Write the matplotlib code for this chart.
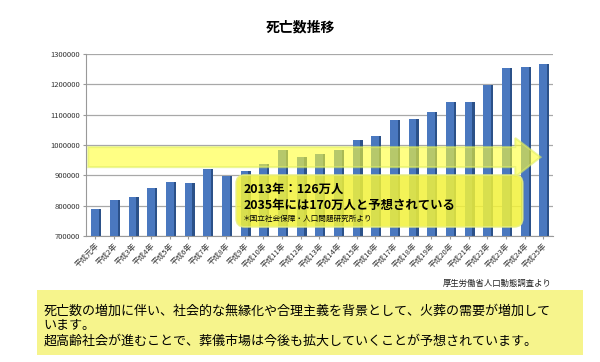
import matplotlib.pyplot as plt
from matplotlib.patches import FancyBboxPatch, Polygon, Rectangle
import numpy as np

plt.rcParams['font.family'] = ['Noto Sans CJK JP', 'DejaVu Sans']

years = ['平成元年'] + ['平成{}年'.format(i) for i in range(2, 26)]
deaths = [788594, 820305, 829797, 856643, 878532, 875933, 922139, 896211,
          913402, 936484, 982031, 961653, 970331, 982379, 1014951, 1028602,
          1083796, 1084450, 1108334, 1142407, 1141865, 1197012, 1253066,
          1256359, 1268436]
yticks = [700000, 800000, 900000, 1000000, 1100000, 1200000, 1300000]

title = '死亡数推移'
note_lines = ['2013年：126万人', '2035年には170万人と予想されている']
note_src = '＊国立社会保障・人口問題研究所より'
source = '厚生労働省人口動態調査より'
comment = ('死亡数の増加に伴い、社会的な無縁化や合理主義を背景として、火葬の需要が増加して\n'
           'います。\n'
           '超高齢社会が進むことで、葬儀市場は今後も拡大していくことが予想されています。')


def main():
    fig = plt.figure(figsize=(6, 3.62), dpi=100)
    ax = fig.add_axes([0.143, 0.348, 0.778, 0.503])

    x = np.arange(len(deaths))
    w = 0.42
    # front face + darker side face to fake the 3D look
    ax.bar(x + w / 2 + 0.06, np.array(deaths) - 700000, width=0.12,
           bottom=700000, color='#2b5189', zorder=2)
    ax.bar(x, np.array(deaths) - 700000, width=w, bottom=700000,
           color='#4a78bf', zorder=3)

    ax.set_xlim(-0.5, len(deaths) - 0.5)
    ax.set_ylim(700000, 1300000)
    ax.set_yticks(yticks)
    ax.set_yticklabels([str(v) for v in yticks], fontsize=5.5,
                       color='#333333')
    ax.yaxis.grid(True, color='#a8a8a8', linewidth=0.9, zorder=0)
    ax.set_xticks(x)
    ax.set_xticklabels(years, rotation=45, ha='right',
                       rotation_mode='anchor', fontsize=5.5, color='#333333')
    ax.tick_params(axis='both', length=2, color='#999999', pad=2)
    for s in ['top', 'right']:
        ax.spines[s].set_visible(False)
    ax.spines['left'].set_color('#999999')
    ax.spines['bottom'].set_color('#999999')

    # translucent yellow arrow
    arrow = Polygon([(-0.37, 993000), (22.5, 993000), (22.5, 1023000),
                     (23.85, 960000), (22.5, 895000), (22.5, 927000),
                     (-0.37, 927000)], closed=True,
                    transform=ax.transData, facecolor='#ffff33',
                    edgecolor='#e0ef60', alpha=0.6, linewidth=1.5,
                    zorder=4)
    ax.add_patch(arrow)

    box = FancyBboxPatch((7.55, 730000), 15.35, 171000,
                         boxstyle='round,pad=0,rounding_size=0.45',
                         mutation_aspect=61560,
                         transform=ax.transData, facecolor='#f2f23a',
                         edgecolor='#e8ef80', alpha=0.85, linewidth=1.2,
                         zorder=5)
    ax.add_patch(box)
    ax.text(7.93, 855000, note_lines[0], fontsize=8.9, fontweight='bold',
            va='center', zorder=6)
    ax.text(7.93, 802000, note_lines[1], fontsize=8.9, fontweight='bold',
            va='center', zorder=6)
    ax.text(7.93, 756000, note_src, fontsize=5.5, va='center', zorder=6)

    fig.text(0.5, 0.925, title, fontsize=10, fontweight='bold',
             ha='center', va='center')
    fig.text(0.92, 0.218, source, fontsize=6, ha='right', va='center',
             color='#222222')

    fig.patches.append(Rectangle((0.062, 0.02), 0.91, 0.18,
                                 transform=fig.transFigure,
                                 facecolor='#f6f48c', edgecolor='none'))
    fig.text(0.072, 0.1, comment, fontsize=9.4, ha='left', va='center',
             linespacing=1.2)

    fig.savefig('out.png', dpi=100)


if __name__ == '__main__':
    main()
